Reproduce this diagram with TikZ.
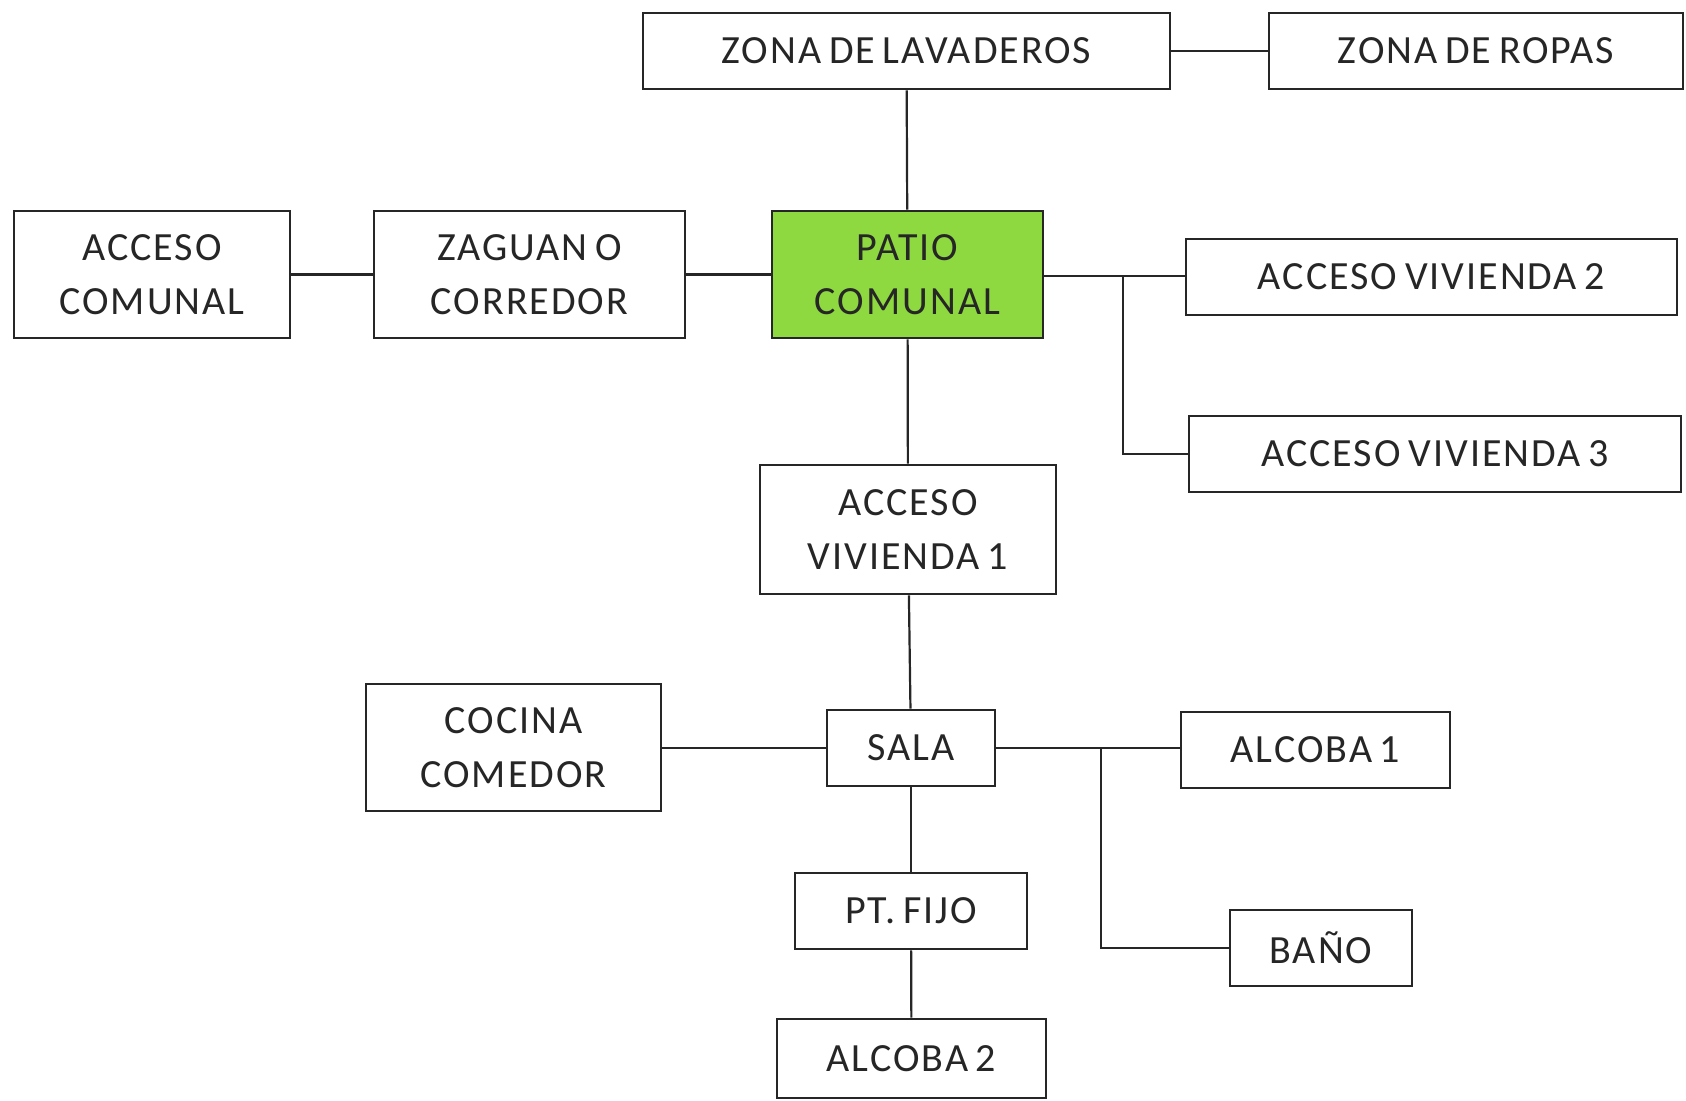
\documentclass[tikz,border=0pt]{standalone}
\usepackage{fontspec}
\setmainfont[LetterSpace=5,WordSpace=0.7]{Carlito}
\usepackage{xcolor}
\usepackage{tikz}
\usetikzlibrary{positioning}
\definecolor{patiogreen}{RGB}{142,217,64}

\begin{document}
\begin{tikzpicture}[
    x=0.5pt, y=-0.5pt,
    room/.style={rectangle, draw=black!85, line width=1.4pt, fill=white, text=black!85, align=center, inner sep=0pt, font=\fontsize{20}{27}\selectfont},
    wide/.style={room, minimum height=38pt},
    tall/.style={room, minimum height=63.5pt},
    link/.style={draw=black!85, line width=1.1pt}
]
\useasboundingbox (0,0) rectangle (1686,1100);

% Row 1: services
\node (lavaderos) [wide, minimum width=263.5pt] at (906.5,51) {ZONA DE LAVADEROS};
\node (ropas) [wide, minimum width=207pt] at (1476,51) {ZONA DE ROPAS};

% Row 2: common area
\node (acceso) [tall, minimum width=138pt] at (152,274.5) {ACCESO\\COMUNAL};
\node (zaguan) [tall, minimum width=155.5pt] at (529.5,274.5) {ZAGUAN O\\CORREDOR};
\node (patio) [tall, minimum width=135.5pt, fill=patiogreen] at (907.5,274.5) {PATIO\\COMUNAL};
\node (viv2) [wide, minimum width=245.5pt] at (1431.5,277) {ACCESO VIVIENDA 2};
\node (viv3) [wide, minimum width=246pt] at (1435,454) {ACCESO VIVIENDA 3};

% Row 3: dwelling 1
\node (viv1) [tall, minimum width=148pt, minimum height=64.5pt] at (908,529.5) {ACCESO\\VIVIENDA 1};
\node (cocina) [tall, minimum width=147.5pt] at (513.5,747.5) {COCINA\\COMEDOR};
\node (sala) [wide, minimum width=84pt] at (911,748) {SALA};
\node (alcoba1) [wide, minimum width=134.5pt] at (1315.5,750) {ALCOBA 1};
\node (ptfijo) [wide, minimum width=116pt] at (911,911) {PT. FIJO};
\node (bano) [wide, minimum width=91pt] at (1321,948) {BAÑO};
\node (alcoba2) [wide, minimum width=134.5pt, minimum height=39.5pt] at (911.5,1058.5) {ALCOBA 2};

\coordinate (forkpatio) at (1123,276);
\coordinate (forksala) at (1101,748);

% Links: row 1
\draw [link] (lavaderos) -- (ropas);
\draw [link] (lavaderos) -- (patio);

% Links: row 2
\draw [link] (acceso) -- (zaguan);
\draw [link] (zaguan) -- (patio);
\draw [link] (patio.east |- forkpatio) -- (forkpatio -| viv2.west);
\draw [link] (forkpatio) |- (viv3.west);
\draw [link] (patio) -- (viv1);

% Links: row 3
\draw [link] (viv1) -- (sala);
\draw [link] (cocina.east |- sala) -- (sala);
\draw [link] (sala.east) -- (forksala -| alcoba1.west);
\draw [link] (forksala) |- (bano.west);
\draw [link] (sala) -- (ptfijo);
\draw [link] (ptfijo) -- (alcoba2);
\end{tikzpicture}
\end{document}
